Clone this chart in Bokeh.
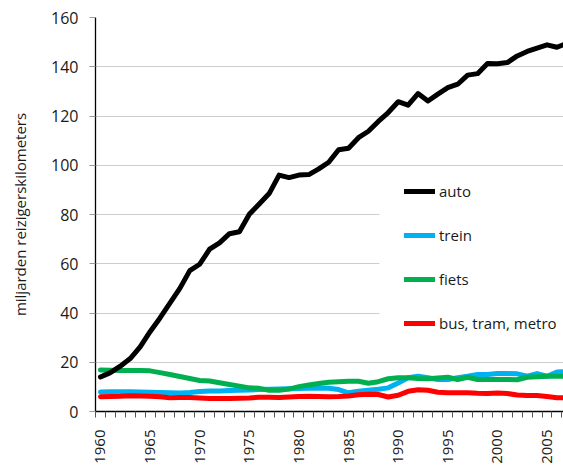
import math
from bokeh.plotting import figure
from bokeh.models import FixedTicker, Legend, LegendItem, BoxAnnotation, Range1d
from bokeh.embed import file_html
from bokeh.resources import INLINE

years = list(range(1960, 2008))
auto = [14.0, 15.8, 18.4, 21.5, 26.2, 32.4, 38.0, 44.0, 50.0, 57.2,
        59.8, 65.9, 68.5, 72.2, 73.0, 80.1, 84.3, 88.5, 96.0, 95.0,
        96.0, 96.2, 98.5, 101.2, 106.3, 106.9, 111.2, 113.8, 117.8, 121.4,
        125.8, 124.4, 129.1, 126.1, 128.9, 131.5, 132.9, 136.6, 137.2, 141.3,
        141.2, 141.7, 144.4, 146.2, 147.6, 148.9, 147.9, 149.5]
trein = [7.9, 8.0, 8.0, 8.0, 7.9, 7.8, 7.7, 7.6, 7.5, 7.7,
         8.1, 8.3, 8.3, 8.5, 8.6, 8.7, 8.9, 9.0, 9.1, 9.2,
         9.3, 9.4, 9.5, 9.4, 8.9, 7.6, 8.2, 8.6, 9.0, 9.6,
         11.6, 13.7, 14.3, 13.7, 13.0, 13.0, 13.7, 14.3, 15.0, 15.0,
         15.4, 15.4, 15.3, 14.3, 15.4, 14.3, 16.0, 16.3]
fiets = [16.9, 16.8, 16.7, 16.6, 16.6, 16.5, 15.8, 15.0, 14.2, 13.4,
         12.6, 12.4, 11.7, 11.0, 10.3, 9.6, 9.4, 8.6, 8.6, 9.1,
         10.1, 10.8, 11.4, 11.9, 12.1, 12.3, 12.3, 11.5, 12.1, 13.3,
         13.7, 13.7, 13.4, 13.3, 13.6, 13.9, 13.0, 13.9, 13.0, 13.0,
         13.0, 13.0, 12.9, 13.9, 14.1, 14.3, 14.3, 14.3]
bus = [6.0, 6.1, 6.2, 6.4, 6.3, 6.2, 6.0, 5.6, 5.7, 5.7,
       5.5, 5.3, 5.3, 5.3, 5.4, 5.5, 5.8, 5.8, 5.7, 5.9,
       6.1, 6.2, 6.1, 6.0, 6.1, 6.3, 6.8, 7.0, 6.9, 5.9,
       6.6, 8.2, 8.8, 8.6, 7.8, 7.6, 7.6, 7.6, 7.4, 7.3,
       7.5, 7.3, 6.7, 6.5, 6.5, 6.1, 5.6, 5.5]

labels = ["auto", "trein", "fiets", "bus, tram, metro"]
colors = ["black", "#00B0F0", "#00B050", "#FF0000"]
x_label_years = [1960, 1965, 1970, 1975, 1980, 1985, 1990, 1995, 2000, 2005]
y_ticks = [0, 20, 40, 60, 80, 100, 120, 140, 160]
y_label = "miljarden reizigerskilometers"

X_START, X_END = 1959.5, 2006.66
FONT = "Open Sans"

p = figure(width=563, height=466, x_range=Range1d(X_START, X_END), y_range=Range1d(0, 160),
           output_backend="svg", toolbar_location=None,
           min_border_left=95, min_border_top=17, min_border_right=0, min_border_bottom=40)
p.outline_line_color = None
p.background_fill_color = "white"

p.xgrid.visible = False
p.ygrid.ticker = FixedTicker(ticks=y_ticks)
p.ygrid.grid_line_color = "#9a9a9a"
p.ygrid.grid_line_dash = "1 1"
p.ygrid.grid_line_width = 1

ya = p.yaxis[0]
ya.ticker = FixedTicker(ticks=y_ticks)
ya.major_tick_out = 6
ya.major_tick_in = 0
ya.minor_tick_out = 0
ya.minor_tick_in = 0
ya.major_tick_line_color = "#9a9a9a"
ya.axis_line_color = "black"
ya.axis_line_width = 1.3
ya.major_label_text_font = FONT
ya.major_label_text_font_size = "16px"
ya.major_label_text_color = "#1a1a1a"
ya.major_label_standoff = 11
ya.axis_label = y_label
ya.axis_label_text_font = FONT
ya.axis_label_text_font_size = "15px"
ya.axis_label_text_font_style = "normal"
ya.axis_label_text_color = "#1a1a1a"
ya.axis_label_standoff = 18

xa = p.xaxis[0]
xa.ticker = FixedTicker(ticks=x_label_years, minor_ticks=[y - 0.5 for y in years])
xa.major_tick_out = 0
xa.major_tick_in = 0
xa.minor_tick_out = 6
xa.minor_tick_in = 0
xa.minor_tick_line_color = "#555555"
xa.axis_line_color = "black"
xa.axis_line_width = 1.3
xa.major_label_orientation = math.pi / 2
xa.major_label_standoff = 12
xa.major_label_text_font = FONT
xa.major_label_text_font_size = "15px"
xa.major_label_text_color = "#1a1a1a"

series = [auto, trein, fiets, bus]
renderers = {}
for idx in [1, 2, 3, 0]:
    r = p.line(years, series[idx], line_width=5, line_color=colors[idx],
               line_join="round", line_cap="round")
    renderers[idx] = r

mask = BoxAnnotation(left=1988.1, right=X_END, bottom=28, top=90,
                     fill_color="white", fill_alpha=1.0, line_color=None)
p.add_layout(mask)

legend = Legend(items=[LegendItem(label=labels[i], renderers=[renderers[i]]) for i in range(4)],
                location=(309, 77), orientation="vertical", padding=0, margin=0,
                spacing=22, glyph_width=31, glyph_height=22, label_height=22,
                label_standoff=4, label_text_font=FONT, label_text_font_size="15px",
                label_text_color="#1a1a1a", border_line_color=None, background_fill_alpha=0)
p.add_layout(legend)

open("out.html", "w").write(file_html(p, INLINE))
